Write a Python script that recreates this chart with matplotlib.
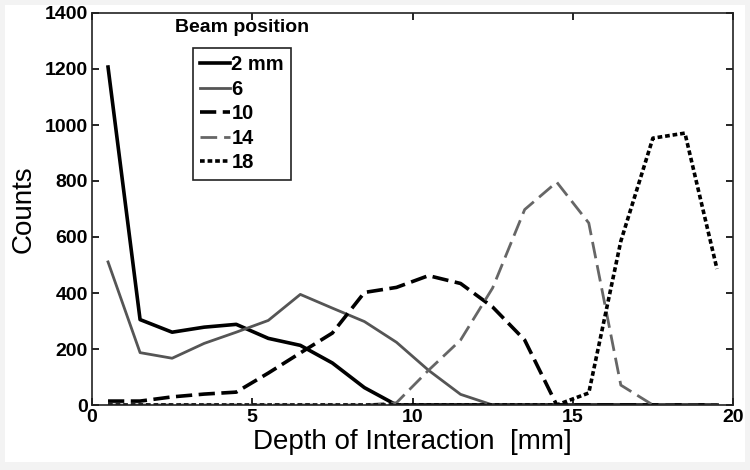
import matplotlib
matplotlib.use("Agg")
import matplotlib.pyplot as plt
from matplotlib.patches import Rectangle

depth = [0.5, 1.5, 2.5, 3.5, 4.5, 5.5, 6.5, 7.5, 8.5, 9.5,
         10.5, 11.5, 12.5, 13.5, 14.5, 15.5, 16.5, 17.5, 18.5, 19.5]
beam_2 = [1207, 305, 260, 278, 288, 238, 213, 150, 62, 0,
          0, 0, 0, 0, 0, 0, 0, 0, 0, 0]
beam_6 = [511, 187, 167, 220, 260, 302, 395, 346, 298, 224,
          124, 38, 0, 0, 0, 0, 0, 0, 0, 0]
beam_10 = [14, 14, 29, 39, 46, 114, 186, 257, 402, 420,
           462, 434, 350, 232, 0, 0, 0, 0, 0, 0]
beam_14 = [0, 0, 0, 0, 0, 0, 0, 0, 0, 8,
           124, 232, 418, 698, 796, 650, 71, 0, 0, 0]
beam_18 = [0, 0, 0, 0, 0, 0, 0, 0, 0, 0,
           0, 0, 0, 0, 0, 43, 585, 953, 971, 486]
labels = ["2 mm", "6", "10", "14", "18"]
xticks = [0, 5, 10, 15, 20]
yticks = [0, 200, 400, 600, 800, 1000, 1200, 1400]

plt.rcParams['font.family'] = ['Liberation Sans', 'DejaVu Sans']

fig = plt.figure(figsize=(7.5, 4.7), dpi=100, facecolor='#f3f3f3')
fig.patches.append(Rectangle((5/750, 8/470), 740/750, 457/470, transform=fig.transFigure,
                             facecolor='white', edgecolor='none', zorder=-10))
ax = fig.add_axes([92/750, 1 - 405/470, 641/750, 392/470])

ax.plot(depth, beam_2, color='black', lw=2.6, ls='-', label=labels[0])
ax.plot(depth, beam_6, color='#555555', lw=2.0, ls='-', label=labels[1])
ax.plot(depth, beam_10, color='black', lw=2.6, ls=(0, (4.5, 1.8)), label=labels[2])
ax.plot(depth, beam_14, color='#666666', lw=2.0, ls=(0, (6, 2.5)), label=labels[3])
ax.plot(depth, beam_18, color='black', lw=2.6, ls=(0, (1.3, 0.8)), label=labels[4])

ax.set_xlim(0, 20)
ax.set_ylim(0, 1400)
ax.set_xticks(xticks)
ax.set_yticks(yticks)
ax.tick_params(direction='in', length=5, width=1.2, top=True, right=True,
               labelsize=14, pad=3)
for lab in ax.get_xticklabels() + ax.get_yticklabels():
    lab.set_fontweight('bold')
for sp in ax.spines.values():
    sp.set_linewidth(1.2)
    sp.set_color('#222222')

ax.set_xlabel("Depth of Interaction  [mm]", fontsize=20, labelpad=2)
ax.set_ylabel("Counts", fontsize=20, labelpad=6)

leg = ax.legend(loc='upper left', bbox_to_anchor=(0.1576, 0.911), borderaxespad=0,
                prop={'weight': 'bold', 'size': 14.5}, handlelength=1.5,
                handletextpad=0.05, labelspacing=0.28, borderpad=0.35,
                fancybox=False, framealpha=1, edgecolor='#222222')
leg.get_frame().set_linewidth(1.2)
ax.text(0.234, 0.985, "Beam position", transform=ax.transAxes, ha='center', va='top',
        fontsize=14, fontweight='bold')

fig.savefig("out.png", dpi=100, facecolor=fig.get_facecolor())
